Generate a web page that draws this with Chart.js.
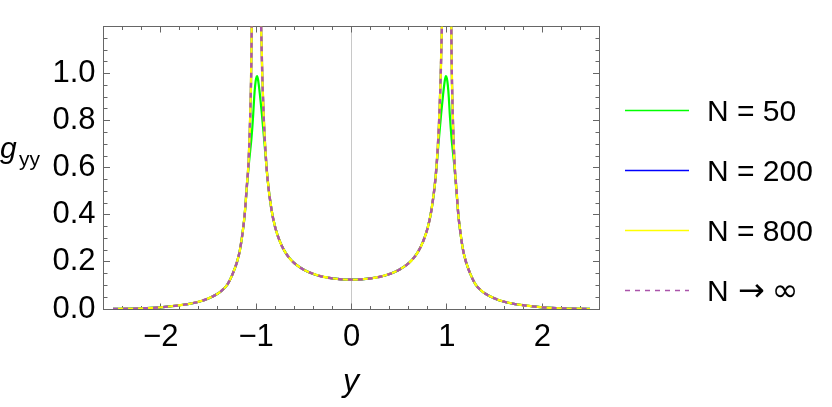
<!DOCTYPE html>
<html><head><meta charset="utf-8">
<script src="https://cdn.jsdelivr.net/npm/chart.js@4/dist/chart.umd.min.js"></script>
<style>html,body{margin:0;padding:0;background:#fff}#wrap{width:832px;height:407px}</style>
</head><body><div id="wrap"><canvas id="c" width="832" height="407"></canvas></div>
<script>
// ---- data ----
const xValues = [-2.5,-2.4,-2.3,-2.2,-2.1,-2.0,-1.9,-1.8,-1.7,-1.6,-1.5,-1.4,-1.35,-1.3,-1.25,-1.2,-1.17,-1.14,-1.12,-1.1,-1.08,-1.06,-1.05,-1.04,-1.03,-1.02,-1.01,-1.0,-0.99,-0.98,-0.96,-0.94,-0.92,-0.9,-0.88,-0.84,-0.8,-0.75,-0.7,-0.65,-0.6,-0.5,-0.4,-0.3,-0.2,-0.1,0,
  0.1,0.2,0.3,0.4,0.5,0.6,0.65,0.7,0.75,0.8,0.84,0.88,0.9,0.92,0.94,0.96,0.98,0.99,1.0,1.01,1.02,1.03,1.04,1.05,1.06,1.08,1.1,1.12,1.14,1.17,1.2,1.25,1.3,1.35,1.4,1.5,1.6,1.7,1.8,1.9,2.0,2.1,2.2,2.3,2.4,2.5];

const gInf = [0.0005,0.0009,0.0016,0.0028,0.0045,0.007,0.011,0.016,0.022,0.031,0.045,0.066,0.082,0.105,0.145,0.20,0.25,0.33,0.40,0.51,0.62,0.85,1.05,1.5,2.1,3.2,6.5,null,6.3,3.16,1.59,1.07,0.815,0.658,0.554,0.425,0.347,0.286,0.245,0.216,0.195,0.167,0.149,0.137,0.130,0.126,0.125,
  0.126,0.130,0.137,0.149,0.167,0.195,0.216,0.245,0.286,0.347,0.425,0.554,0.658,0.815,1.07,1.59,3.16,6.3,null,6.5,3.2,2.1,1.5,1.05,0.85,0.62,0.51,0.40,0.33,0.25,0.20,0.145,0.105,0.082,0.066,0.045,0.031,0.022,0.016,0.011,0.007,0.0045,0.0028,0.0016,0.0009,0.0005];

const gN800 = [0.0005,0.0009,0.0016,0.0028,0.0045,0.007,0.011,0.016,0.022,0.031,0.045,0.066,0.082,0.105,0.145,0.20,0.25,0.33,0.40,0.51,0.62,0.85,1.05,1.5,2.1,3.1,6.0,14,6.0,3.16,1.59,1.07,0.815,0.658,0.554,0.425,0.347,0.286,0.245,0.216,0.195,0.167,0.149,0.137,0.130,0.126,0.125,
  0.126,0.130,0.137,0.149,0.167,0.195,0.216,0.245,0.286,0.347,0.425,0.554,0.658,0.815,1.07,1.59,3.16,6.0,14,6.0,3.1,2.1,1.5,1.05,0.85,0.62,0.51,0.40,0.33,0.25,0.20,0.145,0.105,0.082,0.066,0.045,0.031,0.022,0.016,0.011,0.007,0.0045,0.0028,0.0016,0.0009,0.0005];

const gN200 = [0.0005,0.0009,0.0016,0.0028,0.0045,0.007,0.011,0.016,0.022,0.031,0.045,0.066,0.082,0.105,0.145,0.20,0.25,0.33,0.40,0.51,0.62,0.85,1.05,1.45,1.95,2.7,3.5,3.9,3.8,2.9,1.55,1.07,0.815,0.658,0.554,0.425,0.347,0.286,0.245,0.216,0.195,0.167,0.149,0.137,0.130,0.126,0.125,
  0.126,0.130,0.137,0.149,0.167,0.195,0.216,0.245,0.286,0.347,0.425,0.554,0.658,0.815,1.07,1.55,2.9,3.8,3.9,3.5,2.7,1.95,1.45,1.05,0.85,0.62,0.51,0.40,0.33,0.25,0.20,0.145,0.105,0.082,0.066,0.045,0.031,0.022,0.016,0.011,0.007,0.0045,0.0028,0.0016,0.0009,0.0005];

const gN50 = [0.0005,0.0009,0.0016,0.0028,0.0045,0.007,0.011,0.016,0.022,0.031,0.045,0.066,0.082,0.105,0.145,0.20,0.25,0.33,0.40,0.50,0.60,0.68,0.72,0.77,0.83,0.90,0.95,0.98,0.99,0.975,0.91,0.83,0.74,0.645,0.55,0.425,0.347,0.286,0.245,0.216,0.195,0.167,0.149,0.137,0.130,0.126,0.125,
  0.126,0.130,0.137,0.149,0.167,0.195,0.216,0.245,0.286,0.347,0.425,0.55,0.645,0.74,0.83,0.91,0.975,0.99,0.98,0.95,0.90,0.83,0.77,0.72,0.68,0.60,0.50,0.40,0.33,0.25,0.20,0.145,0.105,0.082,0.066,0.045,0.031,0.022,0.016,0.011,0.007,0.0045,0.0028,0.0016,0.0009,0.0005];

const xTickValues = [-2,-1,0,1,2];
const yTickValues = [0,0.2,0.4,0.6,0.8,1.0];
const seriesLabels = ['N = 50','N = 200','N = 800','N \u2192 \u221E'];
const seriesColors = ['#00ff00','#0000ff','#ffff00','#aa55aa'];

// ---- build ----
const pts = arr => xValues.map((x,i)=>({x:x, y:arr[i]}));
const FONT = "'Liberation Sans', Arial, sans-serif";

const framePlugin = {
  id:'frame',
  beforeDatasetsDraw(chart){
    const {ctx, chartArea:a, scales:{x,y}} = chart;
    ctx.save();
    const L = Math.floor(a.left)+0.5, R = Math.floor(a.right)+0.5, T = Math.floor(a.top)+0.5, B = Math.floor(a.bottom)+0.5;
    ctx.strokeStyle='#c8c8c8'; ctx.lineWidth=1;
    const x0 = Math.floor(x.getPixelForValue(0))+0.5;
    ctx.beginPath(); ctx.moveTo(x0,a.top); ctx.lineTo(x0,a.bottom); ctx.stroke();
    ctx.strokeStyle='#666666';
    ctx.strokeRect(L,T,R-L,B-T);
    ctx.beginPath();
    for(let k=-13;k<=13;k++){
      const v=k*0.2; const major = Math.abs(v-Math.round(v))<1e-9;
      const len = major?6:3.5;
      const px = Math.floor(x.getPixelForValue(v))+0.5;
      ctx.moveTo(px,B); ctx.lineTo(px,B-len);
      ctx.moveTo(px,T); ctx.lineTo(px,T+len);
    }
    for(let k=0;k<=24;k++){
      const v=k*0.05; const major = (k%4)===0;
      const len = major?6.5:4;
      const py = Math.floor(y.getPixelForValue(v))+0.5;
      ctx.moveTo(L,py); ctx.lineTo(L+len,py);
      ctx.moveTo(R,py); ctx.lineTo(R-len,py);
    }
    ctx.stroke();
    ctx.restore();
  },
  afterDraw(chart){
    const {ctx} = chart;
    ctx.save();
    ctx.fillStyle='#000';
    ctx.textBaseline='alphabetic';
    ctx.font = "italic 32px " + FONT;
    ctx.textAlign='center';
    ctx.fillText('y', 351, 391);
    ctx.textAlign='left';
    ctx.font = "italic 30px " + FONT;
    ctx.fillText('g', 0, 158);
    ctx.font = "21px " + FONT;
    ctx.fillText('yy', 19, 166);
    const ys=[110.5,170.5,230.5,290.5], bases=[121,181,241,301];
    for(let i=0;i<4;i++){
      ctx.strokeStyle=seriesColors[i];
      ctx.lineWidth=1.6;
      ctx.setLineDash(i===3?[5,5]:[]);
      ctx.beginPath(); ctx.moveTo(625,ys[i]); ctx.lineTo(689,ys[i]); ctx.stroke();
      ctx.setLineDash([]);
      ctx.textAlign='left';
      ctx.font = "30px " + FONT;
      if(i<3){
        ctx.fillText(seriesLabels[i], 707, bases[i]);
      } else {
        const parts = seriesLabels[i].split(' ');
        ctx.fillText(parts[0], 707, bases[i]);
        ctx.font = "32px 'DejaVu Sans', sans-serif";
        ctx.textAlign='center';
        ctx.fillText(parts[1], 751.5, bases[i]);
        ctx.fillText(parts[2], 785, bases[i]);
      }
    }
    ctx.restore();
  }
};

new Chart(document.getElementById('c'), {
  type:'line',
  data:{
    datasets:[
      {label:seriesLabels[0], data:pts(gN50), borderColor:seriesColors[0], borderWidth:2.2, order:3},
      {label:seriesLabels[1], data:pts(gN200), borderColor:seriesColors[1], borderWidth:2.2, order:2},
      {label:seriesLabels[2], data:pts(gN800), borderColor:seriesColors[2], borderWidth:2.4, order:1},
      {label:seriesLabels[3], data:pts(gInf), borderColor:seriesColors[3], borderWidth:2.4, borderDash:[5,5], order:0}
    ]
  },
  options:{
    responsive:false, animation:false, devicePixelRatio:1,
    layout:{padding:{top:4,right:232.5,bottom:0,left:0}},
    elements:{point:{radius:0}, line:{cubicInterpolationMode:'monotone', fill:false}},
    plugins:{legend:{display:false}, tooltip:{enabled:false}},
    scales:{
      x:{type:'linear', min:-2.6, max:2.6,
        afterBuildTicks:s=>{s.ticks = xTickValues.map(v=>({value:v}));},
        afterFit:s=>{s.height=98;},
        grid:{display:false, drawTicks:false}, border:{display:false},
        ticks:{autoSkip:false, maxRotation:0, padding:10, color:'#000', font:{family:FONT, size:31},
          callback:v=> v<0 ? '\u2212'+Math.abs(v) : String(v)}},
      y:{type:'linear', min:0, max:1.2,
        afterBuildTicks:s=>{s.ticks = yTickValues.map(v=>({value:v}));},
        afterFit:s=>{s.width=103.5;},
        grid:{display:false, drawTicks:false}, border:{display:false},
        ticks:{padding:8, color:'#000', font:{family:FONT, size:31},
          callback:v=> Number(v).toFixed(1)}}
    }
  },
  plugins:[framePlugin]
});
</script>
</body></html>
